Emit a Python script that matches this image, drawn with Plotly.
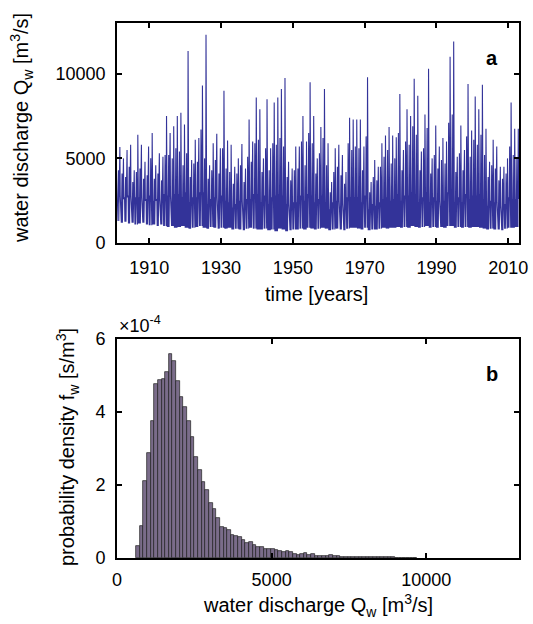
import plotly.graph_objects as go

# ---------------- data: panel a (annual characteristic discharges, m^3/s) ----------------
years = list(range(1901, 2013))

q_max = [5670, 5000, 5500, 5800, 4300, 6400, 5800, 4800, 5700, 6500,
         4600, 5300, 5100, 7500, 6500, 6900, 7500, 7700, 7000, 11350,
         4900, 6100, 6200, 9300, 12300, 4600, 5900, 6450, 5600, 9000,
         6050, 5800, 4500, 5000, 5850, 4400, 7300, 6000, 8600, 7900,
         5000, 8500, 5600, 8300, 8600, 9100, 9750, 4800, 4400, 5700,
         5700, 7500, 6000, 9500, 7500, 5000, 6850, 9100, 5900, 3600,
         5600, 5800, 5200, 4200, 7400, 7300, 7300, 7300, 5700, 9800,
         3600, 4900, 4500, 5900, 6350, 6850, 6350, 6250, 8800, 5500,
         7900, 7500, 9700, 8700, 5400, 7600, 10300, 5000, 6950, 5700,
         6200, 6000, 11000, 11900, 5100, 6950, 5500, 9400, 6650, 8650,
         7900, 9350, 6750, 4800, 6100, 5700, 4500, 4500, 5000, 8300,
         6750, 6750]

q_second = [4300, 4100, 3900, 4500, 3600, 4200, 4400, 3800, 4000, 5000,
            3800, 4100, 3700, 5200, 5200, 5000, 5600, 5400, 4600, 5300,
            3900, 4700, 4800, 6700, 5000, 3800, 4300, 4900, 4100, 5600,
            4400, 4200, 3500, 4100, 4600, 3600, 5100, 4800, 5900, 6100,
            4200, 5600, 4300, 5900, 5800, 6200, 5700, 3900, 3700, 4300,
            4400, 6000, 4600, 6500, 5900, 4100, 5300, 6200, 4600, 3000,
            4200, 4500, 4000, 3500, 5900, 5500, 5700, 5600, 4300, 6300,
            3000, 3900, 3700, 4500, 5100, 5500, 4700, 5000, 6500, 4300,
            6000, 5800, 6900, 6400, 4300, 5600, 6800, 4100, 5200, 4400,
            4900, 4700, 7100, 7600, 4200, 5300, 4300, 6300, 5100, 6100,
            5800, 6400, 5200, 3900, 4600, 4400, 3700, 3800, 4100, 5700,
            5200, 5000]

q_mid = [2800, 2600, 2700, 2800, 2500, 2700, 2700, 2500, 2600, 2800,
         2500, 2600, 2500, 2900, 2800, 2800, 2900, 2900, 2700, 3000,
         2400, 2700, 2700, 3000, 3000, 2300, 2600, 2700, 2500, 2800,
         2500, 2400, 2100, 2300, 2500, 2100, 2600, 2600, 2900, 2900,
         2400, 2800, 2300, 2700, 2800, 2900, 2800, 2300, 2200, 2400,
         2400, 2800, 2500, 2900, 2800, 2400, 2600, 2800, 2400, 2000,
         2400, 2500, 2300, 2200, 2700, 2700, 2700, 2700, 2400, 2800,
         2000, 2300, 2200, 2400, 2600, 2700, 2500, 2600, 2900, 2500,
         2800, 2800, 3000, 2900, 2400, 2700, 3000, 2400, 2700, 2500,
         2500, 2500, 3000, 3100, 2400, 2700, 2400, 2900, 2600, 2800,
         2800, 2900, 2600, 2200, 2500, 2400, 2200, 2100, 2300, 2700,
         2600, 2600]

q_low = [1300, 1200, 1250, 1150, 1200, 1100, 1150, 1200, 1100, 1050,
         1100, 1000, 1100, 1000, 950, 1000, 900, 950, 1000, 900,
         850, 900, 950, 1000, 900, 850, 950, 900, 850, 900,
         850, 900, 800, 850, 800, 750, 850, 900, 850, 800,
         800, 850, 750, 800, 700, 850, 800, 700, 750, 800,
         800, 850, 800, 900, 850, 800, 850, 900, 850, 750,
         800, 850, 800, 750, 850, 900, 900, 850, 800, 900,
         750, 800, 800, 850, 900, 850, 900, 900, 950, 900,
         950, 900, 1000, 950, 900, 950, 1000, 900, 950, 900,
         950, 900, 1000, 1000, 900, 950, 900, 950, 900, 950,
         950, 900, 850, 800, 850, 800, 800, 750, 850, 900,
         900, 950]

# ---------------- data: panel b (histogram, density in 1e-4 s/m^3) ----------------
bin_start = 613
bin_width = 118
density = [0.32, 0.89, 2.12, 2.87, 3.76, 4.77, 4.88, 4.90, 5.09, 5.58,
           5.41, 4.84, 4.42, 4.13, 3.74, 3.31, 2.76, 2.42, 2.07, 1.85,
           1.52, 1.35, 1.09, 0.85, 0.82, 0.77, 0.64, 0.61, 0.57, 0.50,
           0.41, 0.44, 0.35, 0.30, 0.29, 0.24, 0.25, 0.26, 0.23, 0.19,
           0.16, 0.18, 0.16, 0.11, 0.09, 0.10, 0.13, 0.08, 0.11, 0.06,
           0.055, 0.055, 0.055, 0.07, 0.045, 0.05, 0.035, 0.03, 0.03, 0.028,
           0.03, 0.025, 0.028, 0.025, 0.022, 0.02, 0.018, 0.02, 0.015, 0.018,
           0.015, 0.01, 0.012, 0.008, 0.01, 0.006, 0.008]

# ---------------- build daily-like trace from annual values ----------------
pattern = ["low", "mid", "low", "mid", "second", "low", "mid", "low", "max", "mid"]
series = {"low": q_low, "mid": q_mid, "second": q_second, "max": q_max}
t, q = [], []
for i, y in enumerate(years):
    for k, key in enumerate(pattern):
        t.append(y + k / len(pattern))
        q.append(series[key][i])

bin_centers = [bin_start + bin_width * (j + 0.5) for j in range(len(density))]

FONT = "Liberation Sans, Arial, Helvetica, sans-serif"
W, H = 533, 624
L, R = 117, 519
topA, botA = 23, 243
topB, botB = 339, 558

fig = go.Figure()
fig.add_trace(go.Scatter(x=t, y=q, mode="lines", line=dict(color="rgb(51,51,153)", width=1.1),
                         xaxis="x", yaxis="y", showlegend=False, hoverinfo="skip"))
fig.add_trace(go.Bar(x=bin_centers, y=density, width=bin_width,
                     marker=dict(color="rgb(122,108,138)", line=dict(color="rgb(30,30,30)", width=0.7)),
                     xaxis="x2", yaxis="y2", showlegend=False))

axis_common = dict(showline=True, linecolor="black", linewidth=1.8, mirror="ticks",
                   ticks="inside", ticklen=5, tickwidth=1.5, tickcolor="black",
                   showgrid=False, zeroline=False, automargin=False,
                   tickfont=dict(family=FONT, size=18, color="black"))

TF = dict(family=FONT, size=20, color="black")


def px_x(v):
    return v / W


def px_y(v):
    return 1 - v / H


fig.update_layout(
    width=W, height=H,
    margin=dict(l=0, r=0, t=0, b=0),
    paper_bgcolor="white", plot_bgcolor="white",
    bargap=0,
    xaxis=dict(domain=[px_x(L), px_x(R)], range=[1901, 2013], anchor="y",
               tickvals=[1910, 1930, 1950, 1970, 1990, 2010], ticklabelstandoff=7,
               **axis_common),
    yaxis=dict(domain=[px_y(botA), px_y(topA)], range=[0, 13000], anchor="x",
               tickvals=[0, 5000, 10000], ticktext=["0", "5000", "10000"], ticklabelstandoff=6,
               **axis_common),
    xaxis2=dict(domain=[px_x(L), px_x(R)], range=[0, 13000], anchor="y2",
                tickvals=[0, 5000, 10000], ticktext=["0", "5000", "10000"], ticklabelstandoff=4,
                **axis_common),
    yaxis2=dict(domain=[px_y(botB), px_y(topB)], range=[0, 6], anchor="x2",
                tickvals=[0, 2, 4, 6], ticklabelstandoff=6,
                **axis_common),
    annotations=[
        dict(text="water discharge Q<sub>w</sub> [m<sup>3</sup>/s]", textangle=-90,
             xref="paper", yref="paper", x=px_x(22), y=px_y(128),
             xanchor="center", yanchor="middle", showarrow=False, font=TF),
        dict(text="time [years]", xref="paper", yref="paper", x=px_x(316), y=px_y(294),
             xanchor="center", yanchor="middle", showarrow=False, font=TF),
        dict(text="probability density f<sub>w</sub> [s/m<sup>3</sup>]", textangle=-90,
             xref="paper", yref="paper", x=px_x(67), y=px_y(447),
             xanchor="center", yanchor="middle", showarrow=False, font=TF),
        dict(text="water discharge Q<sub>w</sub> [m<sup>3</sup>/s]", xref="paper", yref="paper",
             x=px_x(318), y=px_y(605), xanchor="center", yanchor="middle", showarrow=False, font=TF),
        dict(text="<b>a</b>", xref="paper", yref="paper", x=px_x(492), y=px_y(58),
             xanchor="center", yanchor="middle", showarrow=False, font=TF),
        dict(text="<b>b</b>", xref="paper", yref="paper", x=px_x(492), y=px_y(374),
             xanchor="center", yanchor="middle", showarrow=False, font=TF),
        dict(text="\u00d710<sup>-4</sup>", xref="paper", yref="paper", x=px_x(117), y=px_y(338),
             xanchor="left", yanchor="bottom", showarrow=False,
             font=dict(family=FONT, size=18, color="black")),
    ],
)

fig.write_html("out.html", config={"displayModeBar": False},
               post_script="document.body.style.margin='0px';")
